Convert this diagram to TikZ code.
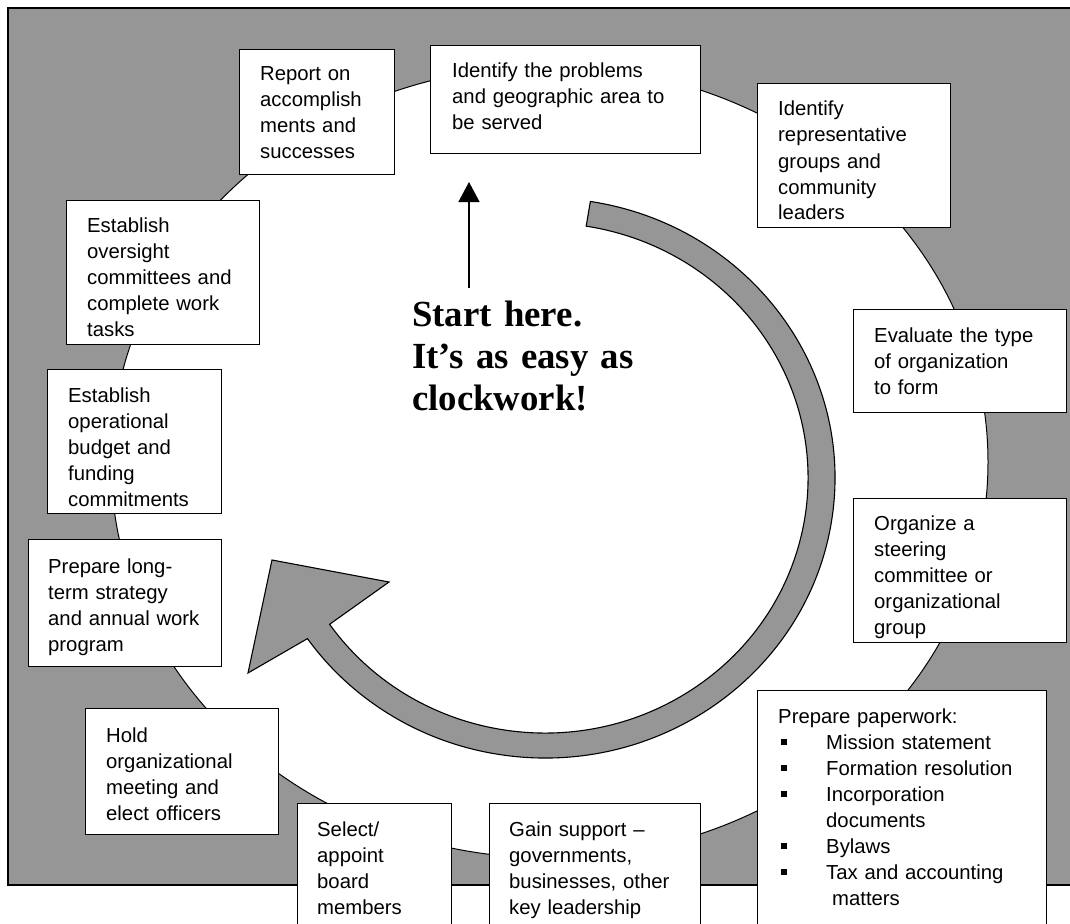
\documentclass[tikz,border=0pt]{standalone}
\usepackage{fontspec}
\setmainfont{Liberation Sans}
\newfontfamily\bigserif{Liberation Serif}
\usetikzlibrary{arrows.meta}
\definecolor{graybg}{RGB}{150,150,150}
\tikzset{
  stepbox/.style={draw, line width=1.1pt, fill=white, inner sep=0pt, anchor=north west},
  txt/.style={anchor=base west, inner sep=0pt, text width=280pt, align=left,
              font=\fontsize{20.3}{26}\selectfont},
  bigtxt/.style={anchor=base west, inner sep=0pt, text width=320pt, align=left,
              font=\bigserif\bfseries\fontsize{36.8}{42}\selectfont},
  band/.style={draw, line width=1.1pt, fill=graybg, line join=miter},
}
\newcommand{\sqb}{\rule[4pt]{5.5pt}{6pt}}
\begin{document}
\begin{tikzpicture}[x=1pt,y=-1pt]
\useasboundingbox (0,0) rectangle (1070,923);
\clip (0,0) rectangle (1070,923);
% background panel
\draw[fill=graybg, line width=1.2pt] (8,8) rectangle (1090,885);
% white clock face
\draw[fill=white, line width=1pt] (549.5,462) ellipse [x radius=438.5pt, y radius=396pt];

% boxes
\node[stepbox, minimum width=270pt, minimum height=108pt] (b1) at (430,45) {};
\node[stepbox, minimum width=193pt, minimum height=144pt] (b2) at (757,83) {};
\node[stepbox, minimum width=212.5pt, minimum height=103pt] (b3) at (853,309) {};
\node[stepbox, minimum width=212.5pt, minimum height=144pt] (b4) at (853,498) {};
\node[stepbox, minimum width=288.5pt, minimum height=260pt] (b5) at (757,690) {};
\node[stepbox, minimum width=211pt, minimum height=150pt] (b6) at (489,803) {};
\node[stepbox, minimum width=154pt, minimum height=150pt] (b7) at (297,803) {};
\node[stepbox, minimum width=193pt, minimum height=126pt] (b8) at (85,708) {};
\node[stepbox, minimum width=193.5pt, minimum height=127pt] (b9) at (27.5,539) {};
\node[stepbox, minimum width=174pt, minimum height=144pt] (b10) at (47,369) {};
\node[stepbox, minimum width=193pt, minimum height=144pt] (b11) at (66,200) {};
\node[stepbox, minimum width=155pt, minimum height=125pt] (b12) at (239,49) {};

% texts
\node[txt] (t1) at ([xshift=22pt,yshift=-33pt]b1.north west) {Identify the problems\\and geographic area to\\be served};
\node[txt] (t2) at ([xshift=21pt,yshift=-33pt]b2.north west) {Identify\\representative\\groups and\\community\\leaders};
\node[txt] (t3) at ([xshift=21pt,yshift=-33pt]b3.north west) {Evaluate the type\\of organization\\to form};
\node[txt] (t4) at ([xshift=21pt,yshift=-32pt]b4.north west) {Organize a\\steering\\committee or\\organizational\\group};
\node[txt] (t5) at ([xshift=21pt,yshift=-33pt]b5.north west) {Prepare paperwork:\\
\hspace*{3pt}\makebox[45pt][l]{\sqb}Mission statement\\
\hspace*{3pt}\makebox[45pt][l]{\sqb}Formation resolution\\
\hspace*{3pt}\makebox[45pt][l]{\sqb}Incorporation\\
\hspace*{48pt}documents\\
\hspace*{3pt}\makebox[45pt][l]{\sqb}Bylaws\\
\hspace*{3pt}\makebox[45pt][l]{\sqb}Tax and accounting\\
\hspace*{54pt}matters};
\node[txt] (t6) at ([xshift=20pt,yshift=-33pt]b6.north west) {Gain support --\\governments,\\businesses, other\\key leadership};
\node[txt] (t7) at ([xshift=20pt,yshift=-33pt]b7.north west) {Select/\\appoint\\board\\members};
\node[txt] (t8) at ([xshift=21pt,yshift=-34pt]b8.north west) {Hold\\organizational\\meeting and\\elect officers};
\node[txt] (t9) at ([xshift=20.5pt,yshift=-34pt]b9.north west) {Prepare long-\\term strategy\\and annual work\\program};
\node[txt] (t10) at ([xshift=21pt,yshift=-33pt]b10.north west) {Establish\\operational\\budget and\\funding\\commitments};
\node[txt] (t11) at ([xshift=21pt,yshift=-32pt]b11.north west) {Establish\\oversight\\committees and\\complete work\\tasks};
\node[txt] (t12) at ([xshift=21pt,yshift=-32pt]b12.north west) {Report on\\accomplish\\ments and\\successes};

% big circular arrow
\draw[band] (545,478) ++(81:290pt and 280pt)
  arc[start angle=81, end angle=-145, x radius=290pt, y radius=280pt]
  -- (248,673) -- (272,560) -- (389,582) -- (329.6,624.3)
  arc[start angle=-145, end angle=81, x radius=263pt, y radius=255pt] -- cycle;

% start text and arrow
\node[bigtxt] (start) at (412,326) {Start here.\\It’s as easy as\\clockwork!};
\coordinate (s0) at (469,288);
\coordinate (s1) at (469,182);
\draw[line width=1.3pt, -{Triangle[width=21pt,length=20pt]}] (s0) -- (s1);
\end{tikzpicture}
\end{document}
